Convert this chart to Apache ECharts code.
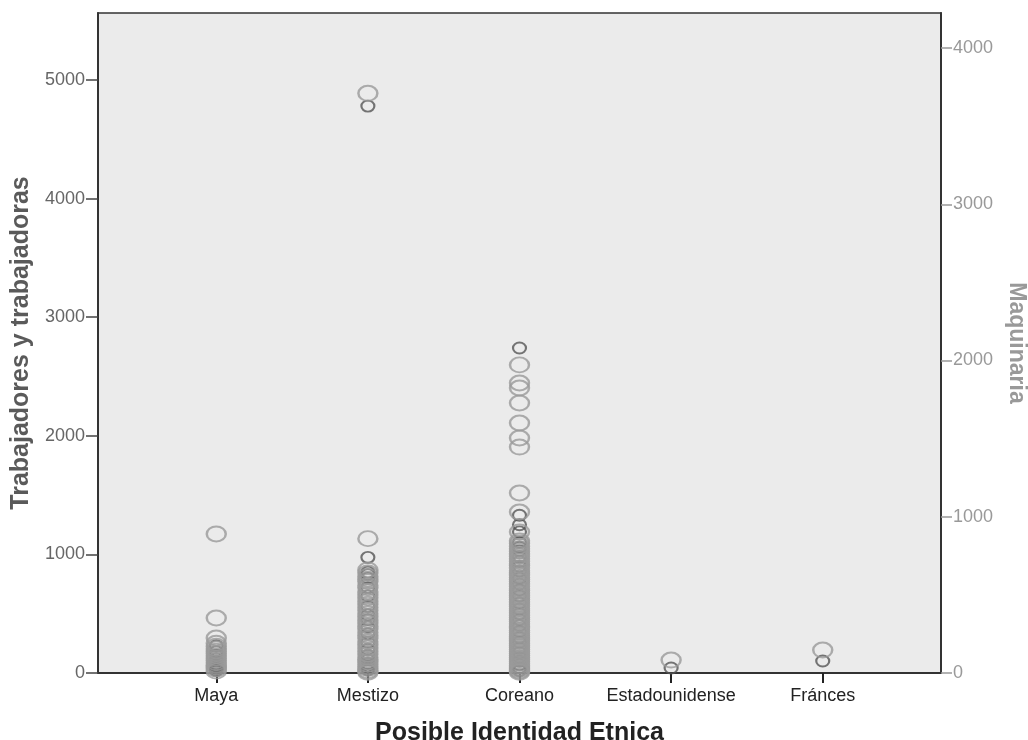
<!DOCTYPE html>
<html>
<head>
<meta charset="utf-8">
<script src="https://cdn.jsdelivr.net/npm/echarts@6/dist/echarts.min.js"></script>
<style>
  html, body { margin: 0; padding: 0; background: #fff; }
  #chart { width: 1028px; height: 740px; }
</style>
</head>
<body>
<div id="chart"></div>
<script>
// categorias del eje X
var categories = ["Maya", "Mestizo", "Coreano", "Estadounidense", "Fránces"];

// Trabajadores y trabajadoras (eje izquierdo), por categoria
var workersMaya = [230, 180, 150, 120, 100, 80, 67, 60, 50, 40, 30, 20];
var workersMestizo = [4780, 975, 850, 830, 800, 720, 650, 560, 490, 450, 390, 330, 260, 200, 150, 110, 80, 60, 40, 25];
var workersCoreano = [2740, 1330, 1250, 1190, 1100, 1060, 1030, 980, 940, 900, 860, 800, 750, 700, 650, 590, 540, 500, 450, 400, 350, 300, 260, 210, 170, 130, 100, 70, 45, 20];
var workersEstadounidense = [42];
var workersFrances = [101];

// Maquinaria (eje derecho), por categoria
var machineryMaya = [890, 352, 224, 190, 172, 155, 140, 125, 110, 95, 80, 65, 50, 38, 25, 12];
var machineryMestizo = [3710, 860, 660, 640, 618, 600, 585, 560, 545, 520, 500, 482, 460, 440, 420, 400, 380, 362, 340, 320, 300, 282, 260, 240, 222, 200, 182, 160, 140, 120, 100, 85, 70, 55, 40, 28, 15, 5];
var machineryCoreano = [1972, 1856, 1824, 1728, 1600, 1504, 1446, 1152, 1030, 902, 845, 830, 812, 795, 780, 762, 748, 731, 715, 700, 688, 672, 655, 640, 628, 612, 598, 585, 570, 556, 540, 528, 512, 498, 485, 470, 455, 440, 428, 412, 398, 385, 370, 356, 342, 330, 315, 300, 288, 272, 260, 245, 230, 218, 205, 190, 178, 165, 150, 138, 125, 112, 100, 88, 75, 62, 50, 40, 30, 20, 12, 5];
var machineryEstadounidense = [83];
var machineryFrances = [147];

// marcas de los ejes
var leftTicks = [0, 1000, 2000, 3000, 4000, 5000];
var rightTicks = [0, 1000, 2000, 3000, 4000];
var xTicks = [1, 2, 3, 4, 5];

function toPoints(groups) {
  var out = [];
  groups.forEach(function (vals, i) {
    vals.forEach(function (v) { out.push([i + 1, v]); });
  });
  return out;
}

var workersData = toPoints([workersMaya, workersMestizo, workersCoreano, workersEstadounidense, workersFrances]);
var machineryData = toPoints([machineryMaya, machineryMestizo, machineryCoreano, machineryEstadounidense, machineryFrances]);

var font = "'Liberation Sans', Arial, sans-serif";
var ellipse = "path://M0,50A50,50,0,1,1,100,50A50,50,0,1,1,0,50Z"; // se estira con symbolSize [w,h]
var chart = echarts.init(document.getElementById("chart"));

var option = {
  animation: false,
  backgroundColor: "#fff",
  grid: {
    left: 98, right: 87, top: 13, bottom: 67,
    containLabel: false,
    outerBoundsMode: "none",
    show: true,
    backgroundColor: "#ebebeb",
    borderColor: "#333",
    borderWidth: 1.5
  },
  xAxis: {
    type: "value",
    min: 0.22,
    max: 5.78,
    name: "Posible Identidad Etnica",
    nameLocation: "middle",
    nameGap: 48,
    nameTextStyle: { color: "#222", fontSize: 25, fontWeight: "bold", fontFamily: font },
    axisLine: { show: true, lineStyle: { color: "#333", width: 2 } },
    axisTick: { show: true, length: 10, customValues: xTicks, lineStyle: { color: "#222", width: 2 } },
    axisLabel: {
      customValues: xTicks,
      margin: 14,
      color: "#222",
      fontSize: 18,
      fontFamily: font,
      formatter: function (v) { return categories[Math.round(v) - 1] || ""; }
    },
    splitLine: { show: false }
  },
  yAxis: [
    {
      type: "value",
      position: "left",
      min: 0,
      max: 5565,
      name: "Trabajadores y trabajadoras",
      nameLocation: "middle",
      nameGap: 63,
      nameTextStyle: { color: "#5a5a5a", fontSize: 25, fontWeight: "bold", fontFamily: font },
      axisLine: { show: true, lineStyle: { color: "#333", width: 2 } },
      axisTick: { show: true, length: 12, customValues: leftTicks, lineStyle: { color: "#444", width: 1.5 } },
      axisLabel: {
        customValues: leftTicks, margin: 13, color: "#666", fontSize: 18, fontFamily: font,
        formatter: function (v) { return String(v); }
      },
      splitLine: { show: false }
    },
    {
      type: "value",
      position: "right",
      min: 0,
      max: 4224,
      name: "Maquinaria",
      nameLocation: "middle",
      nameRotate: -90,
      nameGap: 64,
      nameTextStyle: { color: "#999", fontSize: 23, fontWeight: "bold", fontFamily: font },
      axisLine: { show: true, lineStyle: { color: "#333", width: 2 } },
      axisTick: { show: true, length: 11, customValues: rightTicks, lineStyle: { color: "#999", width: 1.5 } },
      axisLabel: {
        customValues: rightTicks, margin: 12, color: "#999", fontSize: 18, fontFamily: font,
        formatter: function (v) { return String(v); }
      },
      splitLine: { show: false }
    }
  ],
  series: [
    {
      name: "Trabajadores y trabajadoras",
      type: "scatter",
      yAxisIndex: 0,
      symbol: ellipse,
      symbolSize: [13, 11],
      itemStyle: { color: "rgba(0,0,0,0)", borderColor: "#555", borderWidth: 2 },
      data: workersData
    },
    {
      name: "Maquinaria",
      type: "scatter",
      yAxisIndex: 1,
      symbol: ellipse,
      symbolSize: [19, 15],
      itemStyle: { color: "rgba(0,0,0,0)", borderColor: "#9a9a9a", borderWidth: 2.2 },
      data: machineryData
    }
  ]
};

chart.setOption(option);
</script>
</body>
</html>
